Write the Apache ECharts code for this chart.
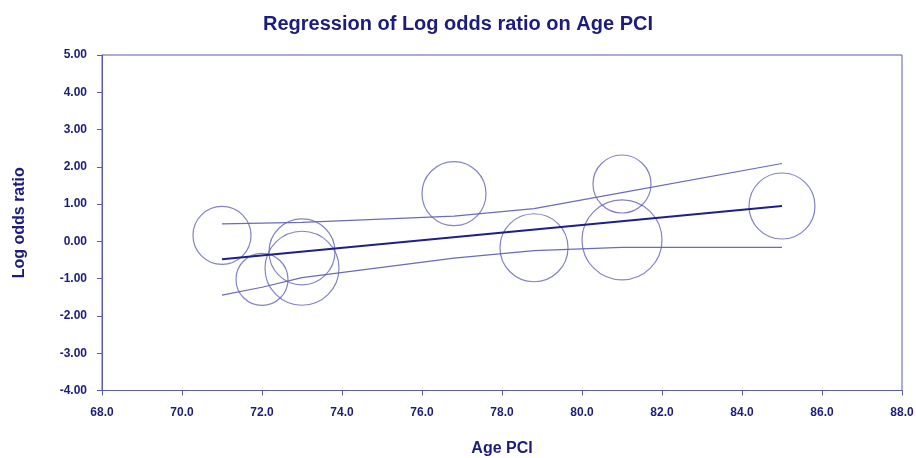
<!DOCTYPE html>
<html>
<head>
<meta charset="utf-8">
<script src="https://cdn.jsdelivr.net/npm/echarts@6/dist/echarts.min.js"></script>
<style>
    html, body { margin: 0; padding: 0; background: #fff; }
    #chart { width: 916px; height: 458px; }
</style>
</head>
<body>
<div id="chart"></div>
<script>
// study points: age, log odds ratio, bubble weight (radius)
var ages = [71.0, 72.0, 73.0, 73.0, 76.8, 78.8, 81.0, 81.0, 85.0];
var logOdds = [0.16, -1.02, -0.28, -0.72, 1.28, -0.17, 0.04, 1.54, 0.95];
var weights = [29, 26, 33, 37, 32, 34, 40, 29, 33];

// regression line and confidence band
var fitX = [71.0, 85.0];
var fitY = [-0.48, 0.95];
var bandX = [71.0, 72.0, 73.0, 76.8, 78.8, 81.0, 85.0];
var upperY = [0.47, 0.49, 0.51, 0.68, 0.88, 1.31, 2.09];
var lowerY = [-1.44, -1.23, -0.97, -0.45, -0.25, -0.16, -0.16];

var navy = '#1c1c7c';
var lineBlue = '#6a6abf';
var axisBlue = '#5a5ab4';

function pairs(xs, ys) {
    return xs.map(function (x, i) { return [x, ys[i]]; });
}

var chart = echarts.init(document.getElementById('chart'));
var option = {
    animation: false,
    title: {
        text: 'Regression of Log odds ratio on Age PCI',
        left: 453,
        textAlign: 'center',
        top: 9,
        textStyle: {
            color: navy,
            fontFamily: 'Liberation Sans',
            fontWeight: 'bold',
            fontSize: 20
        }
    },
    grid: {
        left: 102,
        right: 14,
        top: 55,
        bottom: 67.5,
        outerBoundsMode: 'none',
        containLabel: false,
        show: true,
        borderColor: axisBlue,
        borderWidth: 1
    },
    xAxis: {
        type: 'value',
        min: 68,
        max: 88,
        interval: 2,
        name: 'Age PCI',
        nameLocation: 'middle',
        nameGap: 50,
        nameTextStyle: { color: navy, fontFamily: 'Liberation Sans', fontWeight: 'bold', fontSize: 16 },
        axisLine: { onZero: false, lineStyle: { color: axisBlue } },
        axisTick: { length: 5, lineStyle: { color: axisBlue } },
        splitLine: { show: false },
        axisLabel: {
            margin: 16,
            color: navy,
            fontFamily: 'Liberation Sans',
            fontWeight: 'bold',
            fontSize: 12,
            formatter: function (v) { return v.toFixed(1); }
        }
    },
    yAxis: {
        type: 'value',
        min: -4,
        max: 5,
        interval: 1,
        name: 'Log odds ratio',
        nameLocation: 'middle',
        nameGap: 74,
        nameTextStyle: { color: navy, fontFamily: 'Liberation Sans', fontWeight: 'bold', fontSize: 16 },
        axisLine: { show: true, onZero: false, lineStyle: { color: axisBlue } },
        axisTick: { show: true, length: 5, lineStyle: { color: axisBlue } },
        splitLine: { show: false },
        axisLabel: {
            margin: 15,
            color: navy,
            fontFamily: 'Liberation Sans',
            fontWeight: 'bold',
            fontSize: 12,
            formatter: function (v) { return v.toFixed(2); }
        }
    },
    series: [
        {
            name: 'Studies',
            type: 'scatter',
            data: ages.map(function (a, i) { return [a, logOdds[i], weights[i]]; }),
            symbol: 'circle',
            symbolSize: function (d) { return d[2] * 2; },
            itemStyle: { color: 'rgba(0,0,0,0)', borderColor: '#6464b9', borderWidth: 1.2 },
            z: 3
        },
        {
            name: 'Upper',
            type: 'line',
            data: pairs(bandX, upperY),
            showSymbol: false,
            lineStyle: { color: lineBlue, width: 1.2 }
        },
        {
            name: 'Lower',
            type: 'line',
            data: pairs(bandX, lowerY),
            showSymbol: false,
            lineStyle: { color: lineBlue, width: 1.2 }
        },
        {
            name: 'Fit',
            type: 'line',
            data: pairs(fitX, fitY),
            showSymbol: false,
            lineStyle: { color: '#1e1e8c', width: 2 },
            z: 4
        }
    ]
};
chart.setOption(option);
</script>
</body>
</html>
